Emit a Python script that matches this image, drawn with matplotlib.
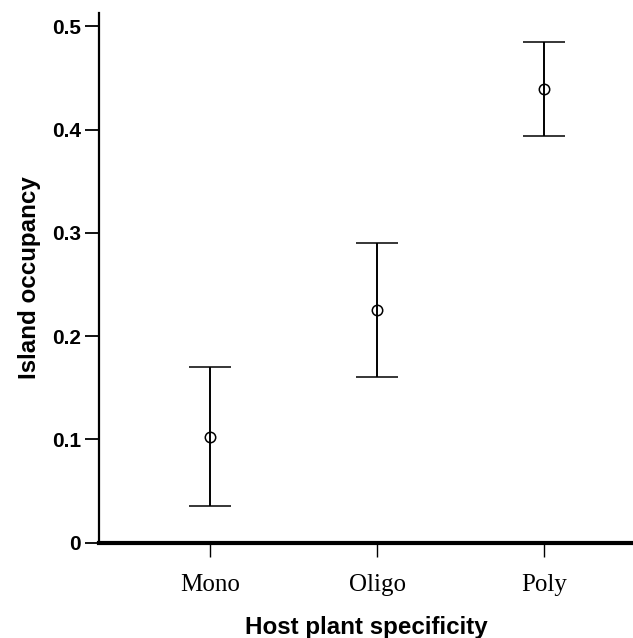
import matplotlib
matplotlib.use("Agg")
import matplotlib.pyplot as plt
import numpy as np

categories = ["Mono", "Oligo", "Poly"]
means = [0.1025, 0.2253, 0.4391]
upper = [0.170, 0.290, 0.4847]
lower = [0.0350, 0.1607, 0.3940]
yticks = [0, 0.1, 0.2, 0.3, 0.4, 0.5]
ytick_labels = ["0", "0.1", "0.2", "0.3", "0.4", "0.5"]

fig = plt.figure(figsize=(6.33, 6.38), dpi=100)
ax = fig.add_axes([99/633, 95.5/638, 1 - 99/633, (638 - 13 - 95.5)/638])

x = np.arange(1, len(categories) + 1)
means_a = np.array(means)
yerr = np.vstack([means_a - np.array(lower), np.array(upper) - means_a])

ax.errorbar(x, means_a, yerr=yerr, fmt='o', color='black', ecolor='black',
            elinewidth=1.4, capsize=15.2, capthick=2.2, markersize=7.5,
            markerfacecolor='none', markeredgewidth=1.1, markeredgecolor='black')

ax.set_xlim(0.335, 3.533)
ax.set_ylim(0, 0.513)

for s in ["top", "right"]:
    ax.spines[s].set_visible(False)
ax.spines["left"].set_linewidth(1.6)
ax.spines["bottom"].set_linewidth(3.0)

ax.set_xticks(x)
ax.set_xticklabels(categories, fontfamily="Liberation Serif", fontsize=18)
ax.set_yticks(yticks)
ax.set_yticklabels(ytick_labels, fontfamily="Liberation Sans", fontsize=15, fontweight="bold")

ax.tick_params(axis='y', length=10, width=1.3, pad=3, color='black')
ax.tick_params(axis='x', length=10, width=1.0, pad=13, color='black')

ax.set_xlabel("Host plant specificity", fontfamily="Liberation Sans", fontsize=17.4,
              fontweight="bold", labelpad=14)
ax.set_ylabel("Island occupancy", fontfamily="Liberation Sans", fontsize=17.4,
              fontweight="bold", labelpad=8)

fig.savefig("out.png", dpi=100)
